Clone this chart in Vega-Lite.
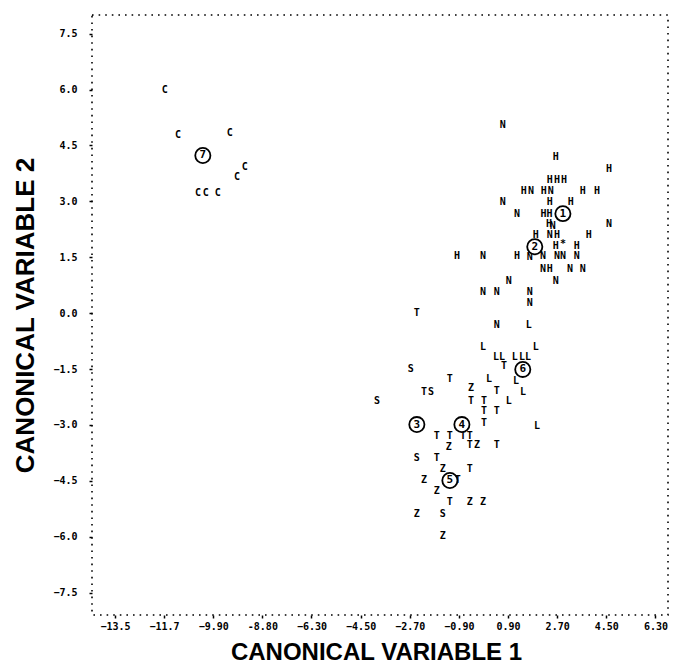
{
  "$schema": "https://vega.github.io/schema/vega-lite/v6.json",
  "width": 576,
  "height": 600,
  "autosize": {"type": "none"},
  "padding": {"left": 92, "top": 15, "right": 6, "bottom": 48},
  "background": "white",
  "config": {
    "view": {"stroke": "black", "strokeWidth": 1.6, "strokeDash": [1.6, 5]},
    "axis": {
      "domain": false,
      "grid": false,
      "tickColor": "black",
      "tickSize": 3,
      "tickWidth": 1.5,
      "labelFont": "DejaVu Sans Mono",
      "labelFontSize": 10,
      "labelFontWeight": "bold",
      "labelColor": "black",
      "titleFont": "Liberation Sans",
      "titleFontWeight": "bold",
      "titleColor": "black"
    }
  },
  "data": {
    "values": [
      {"x": -11.67, "y": 6.00, "label": "C", "kind": "pt"},
      {"x": -11.19, "y": 4.79, "label": "C", "kind": "pt"},
      {"x": -9.29, "y": 4.84, "label": "C", "kind": "pt"},
      {"x": -9.03, "y": 3.64, "label": "C", "kind": "pt"},
      {"x": -8.74, "y": 3.93, "label": "C", "kind": "pt"},
      {"x": -10.46, "y": 3.23, "label": "C", "kind": "pt"},
      {"x": -10.17, "y": 3.23, "label": "C", "kind": "pt"},
      {"x": -9.73, "y": 3.23, "label": "C", "kind": "pt"},

      {"x": 0.71, "y": 5.06, "label": "N", "kind": "pt"},
      {"x": 2.65, "y": 4.20, "label": "H", "kind": "pt"},
      {"x": 4.60, "y": 3.88, "label": "H", "kind": "pt"},
      {"x": 2.43, "y": 3.58, "label": "H", "kind": "pt"},
      {"x": 2.69, "y": 3.58, "label": "H", "kind": "pt"},
      {"x": 2.95, "y": 3.58, "label": "H", "kind": "pt"},
      {"x": 1.48, "y": 3.29, "label": "H", "kind": "pt"},
      {"x": 1.74, "y": 3.29, "label": "N", "kind": "pt"},
      {"x": 2.21, "y": 3.29, "label": "H", "kind": "pt"},
      {"x": 2.47, "y": 3.29, "label": "N", "kind": "pt"},
      {"x": 3.64, "y": 3.29, "label": "H", "kind": "pt"},
      {"x": 4.16, "y": 3.29, "label": "H", "kind": "pt"},
      {"x": 0.71, "y": 2.99, "label": "N", "kind": "pt"},
      {"x": 2.43, "y": 2.99, "label": "H", "kind": "pt"},
      {"x": 3.20, "y": 2.99, "label": "H", "kind": "pt"},
      {"x": 1.23, "y": 2.67, "label": "N", "kind": "pt"},
      {"x": 2.20, "y": 2.67, "label": "H", "kind": "pt"},
      {"x": 2.42, "y": 2.67, "label": "H", "kind": "pt"},
      {"x": 2.40, "y": 2.40, "label": "H", "kind": "pt"},
      {"x": 2.54, "y": 2.35, "label": "N", "kind": "pt"},
      {"x": 4.60, "y": 2.38, "label": "N", "kind": "pt"},
      {"x": 1.92, "y": 2.11, "label": "H", "kind": "pt"},
      {"x": 2.43, "y": 2.11, "label": "N", "kind": "pt"},
      {"x": 2.69, "y": 2.11, "label": "H", "kind": "pt"},
      {"x": 3.86, "y": 2.11, "label": "H", "kind": "pt"},
      {"x": 2.65, "y": 1.81, "label": "H", "kind": "pt"},
      {"x": 2.91, "y": 1.86, "label": "*", "kind": "pt"},
      {"x": 3.42, "y": 1.81, "label": "H", "kind": "pt"},
      {"x": -0.97, "y": 1.52, "label": "H", "kind": "pt"},
      {"x": -0.02, "y": 1.52, "label": "N", "kind": "pt"},
      {"x": 1.23, "y": 1.52, "label": "H", "kind": "pt"},
      {"x": 1.70, "y": 1.50, "label": "N", "kind": "pt"},
      {"x": 2.18, "y": 1.52, "label": "N", "kind": "pt"},
      {"x": 2.69, "y": 1.52, "label": "N", "kind": "pt"},
      {"x": 2.91, "y": 1.52, "label": "N", "kind": "pt"},
      {"x": 3.42, "y": 1.52, "label": "N", "kind": "pt"},
      {"x": 2.18, "y": 1.19, "label": "N", "kind": "pt"},
      {"x": 2.43, "y": 1.19, "label": "H", "kind": "pt"},
      {"x": 3.17, "y": 1.19, "label": "N", "kind": "pt"},
      {"x": 3.64, "y": 1.19, "label": "N", "kind": "pt"},
      {"x": 0.93, "y": 0.87, "label": "N", "kind": "pt"},
      {"x": 2.65, "y": 0.87, "label": "N", "kind": "pt"},
      {"x": -0.02, "y": 0.58, "label": "N", "kind": "pt"},
      {"x": 0.49, "y": 0.58, "label": "N", "kind": "pt"},
      {"x": 1.70, "y": 0.58, "label": "N", "kind": "pt"},
      {"x": 1.70, "y": 0.28, "label": "N", "kind": "pt"},
      {"x": 0.49, "y": -0.31, "label": "N", "kind": "pt"},

      {"x": 1.66, "y": -0.33, "label": "L", "kind": "pt"},
      {"x": -2.44, "y": 0.01, "label": "T", "kind": "pt"},
      {"x": -0.02, "y": -0.92, "label": "L", "kind": "pt"},
      {"x": 1.92, "y": -0.92, "label": "L", "kind": "pt"},
      {"x": 0.46, "y": -1.19, "label": "L", "kind": "pt"},
      {"x": 0.68, "y": -1.19, "label": "L", "kind": "pt"},
      {"x": 0.75, "y": -1.43, "label": "T", "kind": "pt"},
      {"x": 1.15, "y": -1.17, "label": "L", "kind": "pt"},
      {"x": 1.41, "y": -1.17, "label": "L", "kind": "pt"},
      {"x": 1.63, "y": -1.17, "label": "L", "kind": "pt"},
      {"x": -2.66, "y": -1.49, "label": "S", "kind": "pt"},
      {"x": -1.23, "y": -1.78, "label": "T", "kind": "pt"},
      {"x": 0.20, "y": -1.78, "label": "L", "kind": "pt"},
      {"x": 1.19, "y": -1.81, "label": "L", "kind": "pt"},
      {"x": -2.18, "y": -2.11, "label": "T", "kind": "pt"},
      {"x": -1.92, "y": -2.11, "label": "S", "kind": "pt"},
      {"x": -0.46, "y": -2.00, "label": "Z", "kind": "pt"},
      {"x": 0.49, "y": -2.08, "label": "T", "kind": "pt"},
      {"x": 1.45, "y": -2.11, "label": "L", "kind": "pt"},
      {"x": -3.90, "y": -2.37, "label": "S", "kind": "pt"},
      {"x": -0.46, "y": -2.35, "label": "T", "kind": "pt"},
      {"x": 0.02, "y": -2.35, "label": "T", "kind": "pt"},
      {"x": 0.93, "y": -2.37, "label": "L", "kind": "pt"},
      {"x": 0.02, "y": -2.62, "label": "T", "kind": "pt"},
      {"x": 0.49, "y": -2.62, "label": "T", "kind": "pt"},
      {"x": 0.02, "y": -2.94, "label": "T", "kind": "pt"},
      {"x": 1.96, "y": -3.02, "label": "L", "kind": "pt"},
      {"x": -1.71, "y": -3.31, "label": "T", "kind": "pt"},
      {"x": -1.23, "y": -3.31, "label": "T", "kind": "pt"},
      {"x": -0.75, "y": -3.31, "label": "T", "kind": "pt"},
      {"x": -0.50, "y": -3.31, "label": "T", "kind": "pt"},
      {"x": -1.27, "y": -3.58, "label": "Z", "kind": "pt"},
      {"x": -0.50, "y": -3.55, "label": "T", "kind": "pt"},
      {"x": -0.24, "y": -3.55, "label": "Z", "kind": "pt"},
      {"x": 0.49, "y": -3.55, "label": "T", "kind": "pt"},
      {"x": -2.44, "y": -3.90, "label": "S", "kind": "pt"},
      {"x": -1.71, "y": -3.90, "label": "T", "kind": "pt"},
      {"x": -1.49, "y": -4.17, "label": "Z", "kind": "pt"},
      {"x": -0.50, "y": -4.17, "label": "T", "kind": "pt"},
      {"x": -0.94, "y": -4.47, "label": "T", "kind": "pt"},
      {"x": -2.18, "y": -4.49, "label": "Z", "kind": "pt"},
      {"x": -1.71, "y": -4.76, "label": "Z", "kind": "pt"},
      {"x": -1.23, "y": -5.06, "label": "T", "kind": "pt"},
      {"x": -0.50, "y": -5.06, "label": "Z", "kind": "pt"},
      {"x": -0.02, "y": -5.06, "label": "Z", "kind": "pt"},
      {"x": -2.44, "y": -5.38, "label": "Z", "kind": "pt"},
      {"x": -1.49, "y": -5.38, "label": "S", "kind": "pt"},
      {"x": -1.49, "y": -5.97, "label": "Z", "kind": "pt"},

      {"x": 2.91, "y": 2.67, "label": "1", "kind": "centroid"},
      {"x": 1.88, "y": 1.78, "label": "2", "kind": "centroid"},
      {"x": -2.44, "y": -2.99, "label": "3", "kind": "centroid"},
      {"x": -0.79, "y": -2.99, "label": "4", "kind": "centroid"},
      {"x": -1.23, "y": -4.49, "label": "5", "kind": "centroid"},
      {"x": 1.44, "y": -1.51, "label": "6", "kind": "centroid"},
      {"x": -10.28, "y": 4.23, "label": "7", "kind": "centroid"}
    ]
  },
  "encoding": {
    "x": {
      "field": "x",
      "type": "quantitative",
      "scale": {"domain": [-14.34, 6.76], "nice": false, "zero": false},
      "axis": {
        "orient": "bottom",
        "values": [-13.5, -11.7, -9.9, -8.1, -6.3, -4.5, -2.7, -0.9, 0.9, 2.7, 4.5, 6.3],
        "labelExpr": "datum.value < -11 ? format(datum.value, '.1f') : (abs(datum.value + 8.1) < 0.01 ? '-8.80' : format(datum.value, '.2f'))",
        "labelPadding": 3,
        "title": "CANONICAL VARIABLE 1",
        "titleFontSize": 24,
        "titleX": 284,
        "titleY": 44,
        "titleBaseline": "alphabetic",
        "titleAlign": "center"
      }
    },
    "y": {
      "field": "y",
      "type": "quantitative",
      "scale": {"domain": [-8.1, 8.0], "nice": false, "zero": false},
      "axis": {
        "orient": "left",
        "values": [-7.5, -6.0, -4.5, -3.0, -1.5, 0.0, 1.5, 3.0, 4.5, 6.0, 7.5],
        "format": ".1f",
        "labelPadding": 12,
        "title": "CANONICAL VARIABLE 2",
        "titleFontSize": 26,
        "titleAngle": 270,
        "titleX": -59,
        "titleY": 300,
        "titleBaseline": "alphabetic",
        "titleAlign": "center"
      }
    }
  },
  "layer": [
    {
      "transform": [{"filter": "datum.kind == 'pt'"}],
      "mark": {"type": "text", "font": "DejaVu Sans Mono", "fontSize": 10, "fontWeight": "bold", "align": "center", "baseline": "middle", "color": "black"},
      "encoding": {"text": {"field": "label"}}
    },
    {
      "transform": [{"filter": "datum.kind == 'centroid'"}],
      "mark": {"type": "point", "shape": "circle", "size": 230, "filled": false, "fill": "white", "fillOpacity": 1, "stroke": "black", "strokeWidth": 1.8, "opacity": 1}
    },
    {
      "transform": [{"filter": "datum.kind == 'centroid'"}],
      "mark": {"type": "text", "font": "DejaVu Sans Mono", "fontSize": 11, "fontWeight": "bold", "align": "center", "baseline": "middle", "color": "black"},
      "encoding": {"text": {"field": "label"}}
    }
  ]
}
